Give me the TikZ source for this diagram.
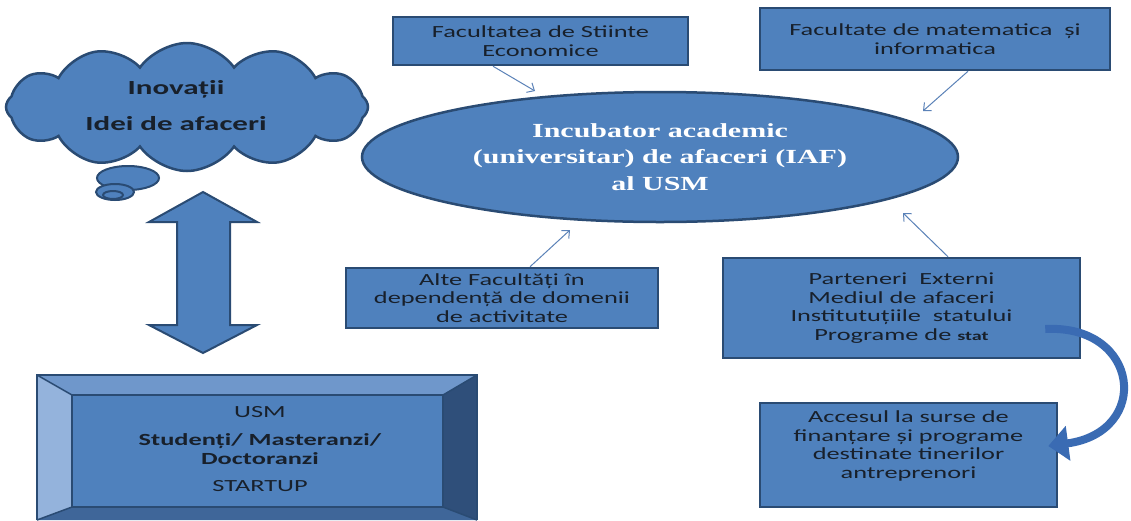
\documentclass[tikz,border=0pt]{standalone}
\usepackage{fontspec}
\setmainfont{Carlito}
\newfontfamily\calf[FakeStretch=1.55]{Carlito}
\newfontfamily\tnrf[FakeStretch=1.5]{Liberation Serif}
\usetikzlibrary{shapes.geometric,shapes.symbols,arrows.meta,calc}
\definecolor{bfill}{HTML}{4F81BD}
\definecolor{bdraw}{HTML}{2A4B73}
\definecolor{btext}{HTML}{18202B}
\definecolor{thinc}{HTML}{5B82B8}
\definecolor{curvc}{HTML}{3A6BB3}
\definecolor{bevtop}{HTML}{6F97CB}
\definecolor{bevleft}{HTML}{94B3DC}
\definecolor{bevright}{HTML}{2F4F7A}
\definecolor{bevbot}{HTML}{3F6699}
\begin{document}
\begin{tikzpicture}[x=1pt,y=-1pt,
  box/.style={draw=bdraw, fill=bfill, line width=2.5pt, rectangle, inner sep=0pt,
    align=center, text=btext, font=\calf\fontsize{17}{18.5}\selectfont},
  txt/.style={align=center, text=btext, inner sep=0pt, font=\calf\fontsize{17}{18.5}\selectfont},
  thinarr/.style={draw=thinc, line width=1pt, -{Straight Barb[length=6pt,width=11pt]}},
  shapeline/.style={draw=bdraw, line width=2pt, fill=bfill}]
\fill[white] (0,0) rectangle (1131,520);
\useasboundingbox (0,0) rectangle (1131,520);

% cloud
\draw[shapeline] (128,178) ellipse [x radius=31, y radius=12];
\node[cloud, cloud puffs=12, cloud puff arc=110, aspect=2.8, draw=bdraw, fill=bfill,
  line width=2.5pt, minimum width=362pt, minimum height=128pt, inner sep=0pt] (cloud) at (187,107) {};
\draw[shapeline] (115,192) ellipse [x radius=19, y radius=8];
\draw[shapeline] (113,195) ellipse [x radius=10, y radius=4];
\node[align=center, text=btext, font=\calf\bfseries\fontsize{20}{36}\selectfont] (ctext) at (176,106) {Inovații\\Idei de afaceri};

% double arrow
\path[shapeline] (203,192) -- (257,222) -- (230,222) -- (230,325) -- (257,325) -- (203,353)
  -- (149,325) -- (177,325) -- (177,222) -- (149,222) -- cycle;

% bevel box
\fill[bevtop] (37,375) -- (477,375) -- (443,395) -- (72,395) -- cycle;
\fill[bevleft] (37,375) -- (72,395) -- (72,507) -- (37,520) -- cycle;
\fill[bevright] (477,375) -- (477,520) -- (443,507) -- (443,395) -- cycle;
\fill[bevbot] (37,520) -- (477,520) -- (443,507) -- (72,507) -- cycle;
\draw[bdraw, line width=1.5pt] (37,375) -- (72,395) (477,375) -- (443,395) (37,520) -- (72,507) (477,520) -- (443,507);
\draw[bdraw, line width=2.5pt] (37,520) -- (37,375) -- (477,375) -- (477,520);
\node[box, line width=2pt, minimum width=371pt, minimum height=112pt] (usm) at (257.5,451) {};
\node[txt] (usmtext) at (260,449) {USM\\[10pt]\textbf{Studenți/ Masteranzi/}\\\textbf{Doctoranzi}\\[9pt]STARTUP};

% ellipse
\node[ellipse, draw=bdraw, fill=bfill, line width=2.5pt, minimum width=596pt, minimum height=130pt,
  inner sep=0pt, align=center, text=white, font=\tnrf\bfseries\fontsize{20}{26.5}\selectfont] (iaf) at (660,157)
  {Incubator academic\\(universitar) de afaceri (IAF)\\al USM};

% boxes
\node[box, minimum width=295pt, minimum height=48pt] (fse) at (540.5,41) {Facultatea de Stiinte\\Economice};
\node[box, minimum width=350pt, minimum height=62pt] (fmi) at (935,39) {Facultate de matematica~ și\\informatica};
\node[box, minimum width=312pt, minimum height=60pt] (alte) at (502,298) {Alte Facultăți în\\dependență de domenii\\de activitate};
\node[box, minimum width=357pt, minimum height=100pt] (part) at (901.5,308) {Parteneri~ Externi\\Mediul de afaceri\\Institutuțiile~ statului\\Programe de {\bfseries\fontsize{13}{18.5}\selectfont stat}};
\node[box, minimum width=297pt, minimum height=104pt] (acc) at (908.5,455) {};
\node[txt] (acctext) at (908.5,446) {Accesul la surse de\\finanțare și programe\\destinate tinerilor\\antreprenori};

% thin arrows
\coordinate (t1) at (535,91);
\coordinate (t2) at (923,111);
\coordinate (t3) at (570,230);
\coordinate (t4) at (903,213);
\draw[thinarr] ([xshift=-47.5pt]fse.south) -- (t1);
\draw[thinarr] ([xshift=33pt]fmi.south) -- (t2);
\draw[thinarr] ([xshift=28pt]alte.north) -- (t3);
\draw[thinarr] ([xshift=46.5pt]part.north) -- (t4);

% curved arrow
\draw[curvc, line width=8pt, -{Triangle[length=20pt,width=34pt]}]
  ([xshift=-36pt,yshift=-21pt]part.east) .. controls (1140,324) and (1152,432) .. ([xshift=-10pt,yshift=9pt]acc.east);
\end{tikzpicture}
\end{document}
